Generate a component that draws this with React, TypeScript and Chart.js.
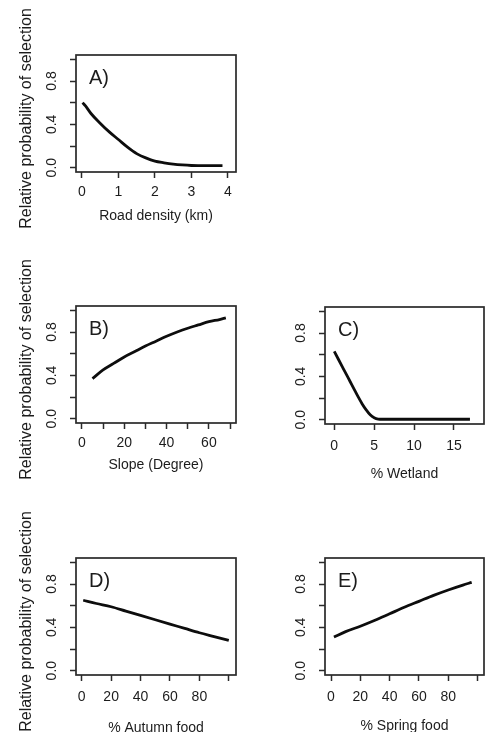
import React, { useEffect, useRef } from 'react';
import { Chart, registerables } from 'chart.js';

Chart.register(...registerables);

// ---------- data ----------
const yAxisTitle = 'Relative probability of selection';
const yTickValues = [0, 0.2, 0.4, 0.6, 0.8, 1.0];
const yTickLabels = ['0.0', '', '0.4', '', '0.8', ''];

// A) Road density
const roadX = [0.02, 0.1, 0.25, 0.5, 0.75, 1.0, 1.25, 1.5, 1.75, 2.0, 2.25, 2.5, 2.75, 3.0, 3.4, 3.85];
const roadY = [0.6, 0.57, 0.5, 0.41, 0.33, 0.26, 0.19, 0.13, 0.09, 0.06, 0.045, 0.033, 0.025, 0.02, 0.018, 0.018];
const roadTicks = [0, 1, 2, 3, 4];
const roadTickLabels = ['0', '1', '2', '3', '4'];

// B) Slope
const slopeX = [5, 10, 15, 20, 25, 30, 35, 40, 45, 50, 55, 60, 65, 68];
const slopeY = [0.37, 0.45, 0.51, 0.57, 0.62, 0.67, 0.715, 0.76, 0.8, 0.835, 0.865, 0.895, 0.915, 0.93];
const slopeTicks = [0, 10, 20, 30, 40, 50, 60, 70];
const slopeTickLabels = ['0', '', '20', '', '40', '', '60', ''];

// C) Wetland
const wetX = [0, 0.5, 1, 1.5, 2, 2.5, 3, 3.5, 4, 4.5, 5, 5.5, 6, 9, 12, 15, 17];
const wetY = [0.63, 0.56, 0.49, 0.42, 0.35, 0.28, 0.21, 0.145, 0.09, 0.045, 0.018, 0.006, 0.004, 0.004, 0.004, 0.004, 0.004];
const wetTicks = [0, 5, 10, 15];
const wetTickLabels = ['0', '5', '10', '15'];

// D) Autumn food
const autumnX = [1, 10, 20, 30, 40, 50, 60, 70, 80, 90, 100];
const autumnY = [0.65, 0.62, 0.59, 0.55, 0.51, 0.47, 0.43, 0.39, 0.35, 0.315, 0.28];
const autumnTicks = [0, 20, 40, 60, 80, 100];
const autumnTickLabels = ['0', '20', '40', '60', '80', ''];

// E) Spring food
const springX = [2, 10, 20, 30, 40, 50, 60, 70, 80, 90, 96];
const springY = [0.31, 0.36, 0.41, 0.465, 0.525, 0.585, 0.64, 0.695, 0.745, 0.79, 0.815];
const springTicks = [0, 20, 40, 60, 80, 100];
const springTickLabels = ['0', '20', '40', '60', '80', ''];

// ---------- layout ----------
const FONT = '"Liberation Sans", Arial, Helvetica, sans-serif';

type Panel = {
  letter: string;
  xTitle: string;
  xs: number[];
  ys: number[];
  ticks: number[];
  tickLabels: string[];
  xMin: number;
  xMax: number;
  showYTitle: boolean;
  cl: number; ct: number; cw: number;
  area: { left: number; top: number; right: number; bottom: number };
  xh: number;
  labelOffset: number;
  titleOffset: number;
};

const panels: Panel[] = [
  { letter: 'A)', xTitle: 'Road density (km)', xs: roadX, ys: roadY, ticks: roadTicks, tickLabels: roadTickLabels,
    xMin: -0.16, xMax: 4.22, showYTitle: true, cl: 0, ct: 0, cw: 245,
    area: { left: 76, top: 55, right: 236, bottom: 172 }, xh: 60, labelOffset: 20, titleOffset: 44 },
  { letter: 'B)', xTitle: 'Slope (Degree)', xs: slopeX, ys: slopeY, ticks: slopeTicks, tickLabels: slopeTickLabels,
    xMin: -2.8, xMax: 72.8, showYTitle: true, cl: 0, ct: 240, cw: 245,
    area: { left: 76, top: 306, right: 236, bottom: 423 }, xh: 60, labelOffset: 20, titleOffset: 42 },
  { letter: 'C)', xTitle: '% Wetland', xs: wetX, ys: wetY, ticks: wetTicks, tickLabels: wetTickLabels,
    xMin: -1.16, xMax: 18.76, showYTitle: false, cl: 250, ct: 240, cw: 240,
    area: { left: 325, top: 307, right: 484, bottom: 424 }, xh: 64, labelOffset: 22, titleOffset: 50 },
  { letter: 'D)', xTitle: '% Autumn food', xs: autumnX, ys: autumnY, ticks: autumnTicks, tickLabels: autumnTickLabels,
    xMin: -3.9, xMax: 104.9, showYTitle: true, cl: 0, ct: 490, cw: 245,
    area: { left: 76, top: 558, right: 236, bottom: 675 }, xh: 70, labelOffset: 22, titleOffset: 53 },
  { letter: 'E)', xTitle: '% Spring food', xs: springX, ys: springY, ticks: springTicks, tickLabels: springTickLabels,
    xMin: -4.1, xMax: 104.4, showYTitle: false, cl: 250, ct: 490, cw: 240,
    area: { left: 325, top: 558, right: 484, bottom: 675 }, xh: 70, labelOffset: 22, titleOffset: 51 },
];

const TEXT = '#1c1c1c';
const AXIS = '#2a2a2a';
const TICK_LEN = 6;
const TICK_FONT = 14;
const TITLE_FONT = 14;
const YTITLE_FONT = 16;

function PanelChart({ p }: { p: Panel }) {
  const ref = useRef<HTMLCanvasElement | null>(null);
  const height = p.area.bottom - p.ct + p.xh;

  useEffect(() => {
    if (!ref.current) return;
    const yw = p.area.left - p.cl;
    const boxPlugin = {
      id: 'rbox' + p.letter,
      afterDraw(chart: any) {
        const { ctx, chartArea: a } = chart;
        ctx.save();
        ctx.strokeStyle = AXIS;
        ctx.lineWidth = 1.7;
        ctx.strokeRect(a.left, a.top, a.right - a.left, a.bottom - a.top);
        ctx.font = `20px ${FONT}`;
        ctx.fillStyle = TEXT;
        ctx.textAlign = 'left';
        ctx.textBaseline = 'middle';
        ctx.fillText(p.letter, a.left + 13, a.top + 23);
        if (p.showYTitle) {
          ctx.save();
          ctx.translate(27, (a.top + a.bottom) / 2 + 5);
          ctx.rotate(-Math.PI / 2);
          ctx.font = `${YTITLE_FONT}px ${FONT}`;
          ctx.textAlign = 'center';
          ctx.textBaseline = 'middle';
          ctx.fillText(yAxisTitle, 0, 0);
          ctx.restore();
        }
        ctx.restore();
      },
    };
    const grid = {
      display: true,
      drawOnChartArea: false,
      drawTicks: true,
      tickLength: TICK_LEN,
      tickWidth: 1.5,
      tickColor: AXIS,
      color: AXIS,
    };
    const chart = new Chart(ref.current, {
      type: 'line',
      data: {
        datasets: [
          {
            data: p.xs.map((x, i) => ({ x, y: p.ys[i] })),
            borderColor: '#0d0d0d',
            borderWidth: 2.8,
            pointRadius: 0,
            tension: 0.4,
            cubicInterpolationMode: 'monotone',
            fill: false,
          },
        ],
      },
      options: {
        responsive: false,
        maintainAspectRatio: false,
        animation: false,
        devicePixelRatio: 1,
        layout: {
          padding: { left: 0, top: p.area.top - p.ct, right: p.cl + p.cw - p.area.right, bottom: 0 },
        },
        plugins: { legend: { display: false }, tooltip: { enabled: false }, title: { display: false } },
        scales: {
          x: {
            type: 'linear',
            min: p.xMin,
            max: p.xMax,
            afterBuildTicks: (s: any) => { s.ticks = p.ticks.map((v) => ({ value: v })); },
            afterFit: (s: any) => { s.height = p.xh; },
            ticks: {
              autoSkip: false,
              maxRotation: 0,
              minRotation: 0,
              padding: p.labelOffset - TICK_LEN - (TICK_FONT * 1.2) / 2,
              color: TEXT,
              font: { size: TICK_FONT, family: FONT },
              callback: (_v: any, i: number) => p.tickLabels[i] ?? '',
            },
            grid,
            border: { display: false },
            title: {
              display: true,
              text: p.xTitle,
              color: TEXT,
              font: { size: TITLE_FONT, family: FONT },
              padding: { top: 0, bottom: p.xh - (TITLE_FONT * 1.2) / 2 - p.titleOffset },
            },
          },
          y: {
            type: 'linear',
            min: -0.04,
            max: 1.04,
            afterBuildTicks: (s: any) => { s.ticks = yTickValues.map((v) => ({ value: v })); },
            afterFit: (s: any) => { s.width = yw; },
            ticks: {
              autoSkip: false,
              minRotation: 90,
              maxRotation: 90,
              crossAlign: 'center',
              padding: 8.5,
              color: TEXT,
              font: { size: TICK_FONT, family: FONT },
              callback: (_v: any, i: number) => yTickLabels[i] ?? '',
            },
            grid,
            border: { display: false },
            title: { display: false },
          },
        },
      } as any,
      plugins: [boxPlugin],
    });
    return () => chart.destroy();
  }, [p]);

  return (
    <canvas
      ref={ref}
      width={p.cw}
      height={height}
      style={{ position: 'absolute', left: p.cl, top: p.ct, width: p.cw, height }}
    />
  );
}

export default function App() {
  return (
    <div
      style={{
        position: 'absolute',
        left: 0,
        top: 0,
        width: 490,
        height: 732,
        overflow: 'hidden',
        background: '#fff',
      }}
    >
      {panels.map((p) => (
        <PanelChart key={p.letter} p={p} />
      ))}
    </div>
  );
}
